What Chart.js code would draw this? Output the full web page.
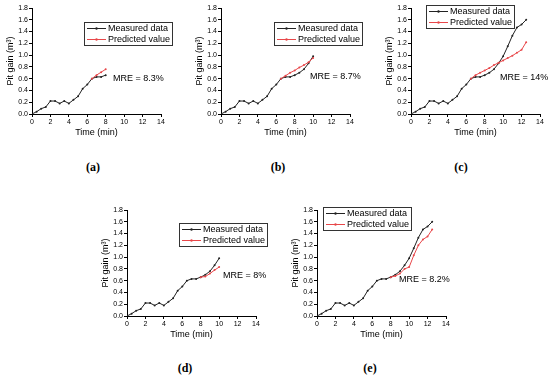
<!DOCTYPE html>
<html><head><meta charset="utf-8">
<script src="https://cdn.jsdelivr.net/npm/chart.js@4/dist/chart.umd.min.js"></script>
<style>
html,body{margin:0;padding:0;background:#fff;width:550px;height:377px;overflow:hidden;}
body{position:relative}
canvas{position:absolute}
.lbl{position:absolute;font-family:"Liberation Serif","DejaVu Serif",serif;font-weight:bold;font-size:12px;transform:translate(-50%,-50%);color:#000;white-space:nowrap}
</style></head><body>
<script>
// ---- data ----
const timeMin = [0,0.5,1,1.5,2,2.5,3,3.5,4,4.5,5,5.5,6,6.5,7,7.5,8,8.5,9,9.5,10,10.5,11,11.5,12,12.5];
const measuredGain = [0,0.04,0.09,0.12,0.22,0.22,0.18,0.22,0.18,0.24,0.30,0.43,0.50,0.60,0.63,0.63,0.66,0.70,0.76,0.86,0.98,1.15,1.33,1.47,1.52,1.60];
const measuredEnd = [8,10,12.5,10,12.5];
const predTimeA = [6.5,7,7.5,8];
const predGainA = [0.60,0.66,0.71,0.76];
const predTimeB = [6.5,7,7.5,8,8.5,9,9.5,10];
const predGainB = [0.60,0.65,0.70,0.74,0.79,0.83,0.88,0.95];
const predTimeC = [6.5,7,7.5,8,8.5,9,9.5,10,10.5,11,11.5,12,12.5];
const predGainC = [0.60,0.66,0.70,0.74,0.78,0.83,0.87,0.91,0.95,0.99,1.04,1.09,1.22];
const predTimeD = [8,8.5,9,9.5,10];
const predGainD = [0.66,0.67,0.72,0.78,0.83];
const predTimeE = [8,8.5,9,9.5,10,10.5,11,11.5,12,12.5];
const predGainE = [0.66,0.68,0.72,0.80,0.83,1.03,1.20,1.30,1.35,1.47];
const panelLabels = ['(a)','(b)','(c)','(d)','(e)'];
const mreLabels = ['MRE = 8.3%','MRE = 8.7%','MRE = 14%','MRE = 8%','MRE = 8.2%'];
const seriesNames = ['Measured data','Predicted value'];
const xTickMax = 14, yTickMax = 1.8;

// ---- layout (page pixels) ----
const layout = [
  {L:32, T:8,  extra:14, lg:[52,14], mre:[81,71], lbl:[93,167]},
  {L:221,T:8,  extra:14, lg:[53,14], mre:[89,69], lbl:[278,167]},
  {L:411,T:8,  extra:10, lg:[15,-3], mre:[89,70], lbl:[461,167]},
  {L:127,T:210,extra:14, lg:[52,13], mre:[96,66], lbl:[185,368]},
  {L:317,T:210,extra:8,  lg:[6,-3],  mre:[82,70], lbl:[370,368]}
];
const predT = [predTimeA,predTimeB,predTimeC,predTimeD,predTimeE];
const predG = [predGainA,predGainB,predGainC,predGainD,predGainE];
const PW = 129, PH = 106, YW = 32, XH = 26, PT = 8;
const FONT = '"Liberation Sans", Arial, sans-serif';
const BLACK = '#222', RED = '#e8474a';

const overlay = {
  id:'overlay',
  afterDatasetsDraw(chart, args, opts){
    const ctx = chart.ctx, ca = chart.chartArea;
    ctx.save();
    const bx = ca.left + opts.lg[0], by = ca.top + opts.lg[1], bw = 88, bh = 23;
    ctx.fillStyle = '#fff'; ctx.fillRect(bx, by, bw, bh);
    ctx.strokeStyle = '#333'; ctx.lineWidth = 1;
    ctx.strokeRect(Math.round(bx)+0.5, Math.round(by)+0.5, bw, bh);
    const cols = [BLACK, RED];
    ctx.font = '9px ' + FONT; ctx.textBaseline = 'middle'; ctx.textAlign = 'left';
    seriesNames.forEach((n,i)=>{
      const yy = Math.round(by + 6 + i*11) + 0.5;
      ctx.strokeStyle = cols[i]; ctx.beginPath(); ctx.moveTo(bx+3, yy); ctx.lineTo(bx+22, yy); ctx.stroke();
      ctx.fillStyle = cols[i]; ctx.beginPath(); ctx.arc(bx+12.5, yy, 1.2, 0, Math.PI*2); ctx.fill();
      ctx.fillStyle = '#000'; ctx.fillText(n, bx+24, yy);
    });
    ctx.font = '9px ' + FONT; ctx.fillStyle = '#000';
    ctx.fillText(opts.mre, ca.left + opts.mreXY[0], ca.top + opts.mreXY[1]);
    ctx.restore();
  }
};

layout.forEach((p, i) => {
  const cv = document.createElement('canvas');
  const w = YW + PW + p.extra, h = PT + PH + XH;
  cv.width = w; cv.height = h;
  cv.style.left = (p.L - YW) + 'px'; cv.style.top = (p.T - PT) + 'px';
  cv.style.width = w + 'px'; cv.style.height = h + 'px';
  document.body.appendChild(cv);
  const meas = [];
  timeMin.forEach((t, k) => { if (t <= measuredEnd[i]) meas.push({x:t, y:measuredGain[k]}); });
  const pred = predT[i].map((t, k) => ({x:t, y:predG[i][k]}));
  new Chart(cv, {
    type:'scatter',
    data:{datasets:[
      {label:seriesNames[0], data:meas, showLine:true, borderColor:BLACK, backgroundColor:BLACK, borderWidth:1, pointRadius:1, pointBorderWidth:0, order:2},
      {label:seriesNames[1], data:pred, showLine:true, borderColor:RED, backgroundColor:RED, borderWidth:1, pointRadius:1, pointBorderWidth:0, order:1}
    ]},
    options:{
      responsive:false, animation:false, devicePixelRatio:1,
      layout:{padding:{top:PT, right:p.extra, left:0, bottom:0}},
      plugins:{legend:{display:false}, tooltip:{enabled:false},
        overlay:{lg:p.lg, mre:mreLabels[i], mreXY:p.mre}},
      scales:{
        x:{type:'linear', min:0, max:xTickMax,
          ticks:{stepSize:2, font:{size:7, family:FONT}, color:'#000', padding:1, maxRotation:0, autoSkip:false},
          grid:{drawOnChartArea:false, tickLength:3, color:'#000'},
          border:{color:'#000', width:1},
          title:{display:true, text:'Time (min)', font:{size:9, family:FONT}, color:'#000', padding:{top:0,bottom:2}},
          afterFit(s){ s.height = XH; }},
        y:{type:'linear', min:0, max:yTickMax,
          ticks:{stepSize:0.2, font:{size:7, family:FONT}, color:'#000', padding:1, callback:v=>Number(v).toFixed(1)},
          grid:{drawOnChartArea:false, tickLength:3, color:'#000'},
          border:{color:'#000', width:1},
          title:{display:true, text:'Pit gain (m³)', font:{size:9, family:FONT}, color:'#000', padding:{top:5,bottom:0}},
          afterFit(s){ s.width = YW; }}
      }
    },
    plugins:[overlay]
  });
  const d = document.createElement('div');
  d.className = 'lbl'; d.textContent = panelLabels[i];
  d.style.left = p.lbl[0] + 'px'; d.style.top = p.lbl[1] + 'px';
  document.body.appendChild(d);
});
</script>
</body></html>
